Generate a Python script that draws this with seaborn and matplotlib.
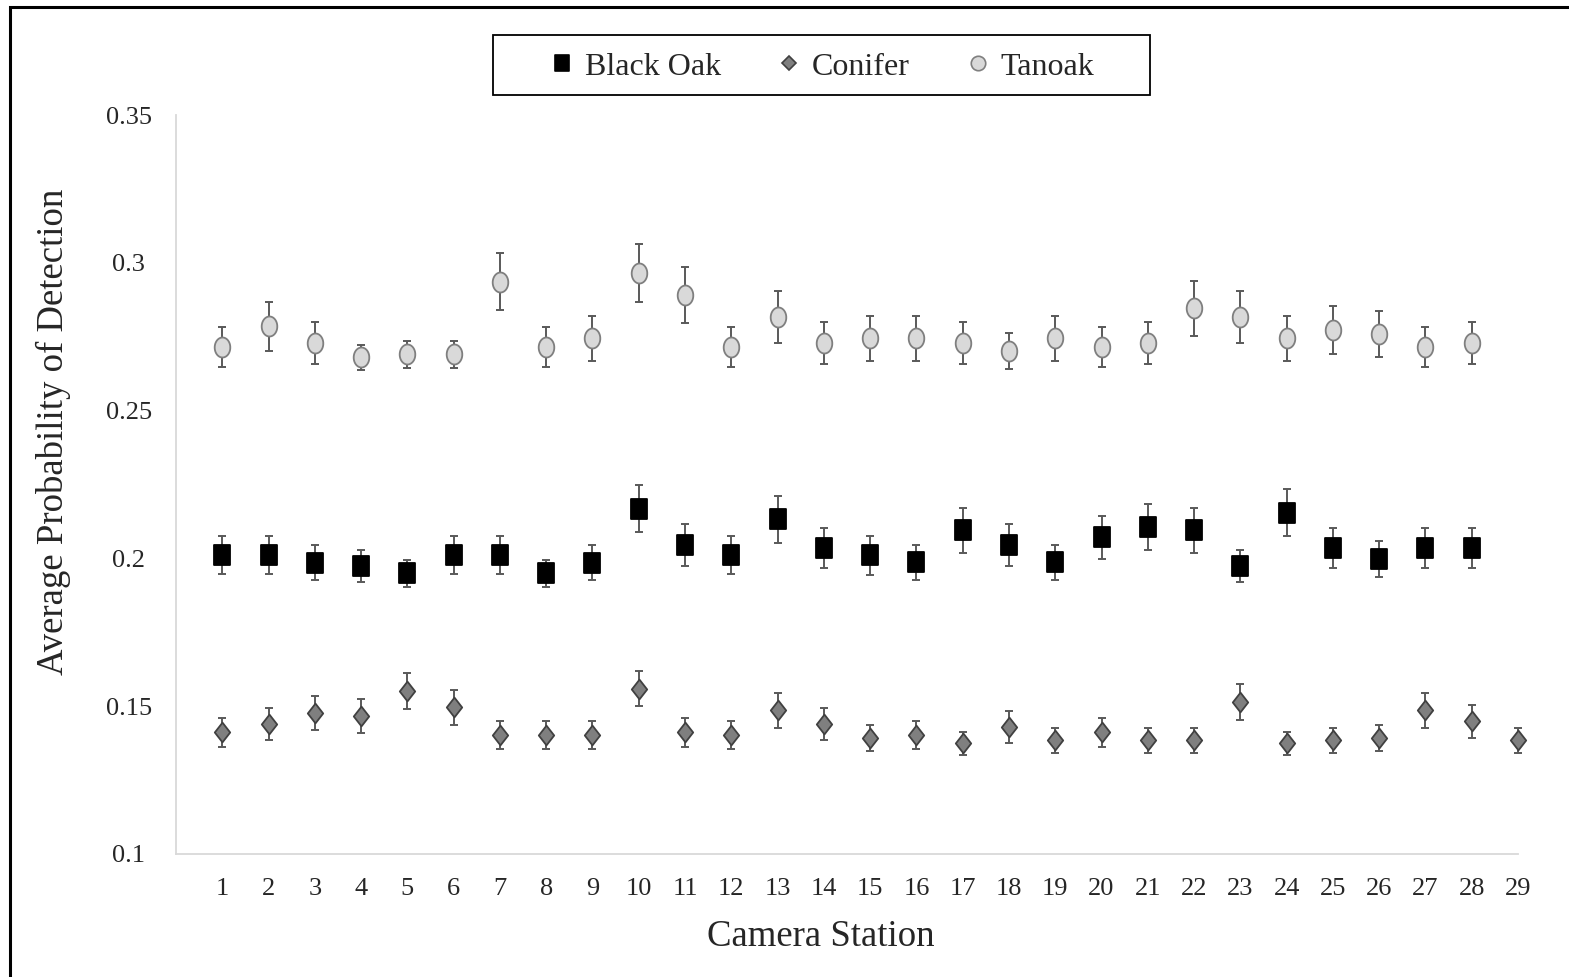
import numpy as np
import pandas as pd
import seaborn as sns
import matplotlib
matplotlib.use("Agg")
import matplotlib.pyplot as plt
from matplotlib.path import Path
from matplotlib.patches import Rectangle
from matplotlib.lines import Line2D

# Camera stations and mean detection probabilities (+/- error) per habitat
stations = list(range(1, 30))

black_oak = [0.2011, 0.2011, 0.1986, 0.1974, 0.1950, 0.2011, 0.2011, 0.1950, 0.1986, 0.2168,
             0.2046, 0.2011, 0.2132, 0.2035, 0.2010, 0.1987, 0.2095, 0.2046, 0.1987, 0.2071,
             0.2107, 0.2095, 0.1974, 0.2155, 0.2035, 0.1998, 0.2035, 0.2035, np.nan]
black_oak_err = [0.0065, 0.0065, 0.0058, 0.0055, 0.0046, 0.0065, 0.0065, 0.0046, 0.0058, 0.0080,
                 0.0071, 0.0065, 0.0079, 0.0068, 0.0065, 0.0059, 0.0076, 0.0071, 0.0059, 0.0074,
                 0.0077, 0.0076, 0.0055, 0.0080, 0.0068, 0.0061, 0.0068, 0.0068, np.nan]

conifer = [0.1412, 0.1440, 0.1477, 0.1468, 0.1550, 0.1496, 0.1403, 0.1403, 0.1403, 0.1559,
           0.1412, 0.1403, 0.1486, 0.1440, 0.1393, 0.1403, 0.1375, 0.1430, 0.1384, 0.1412,
           0.1384, 0.1384, 0.1514, 0.1375, 0.1384, 0.1393, 0.1486, 0.1449, 0.1384]
conifer_err = [0.0049, 0.0054, 0.0059, 0.0057, 0.0061, 0.0060, 0.0047, 0.0047, 0.0047, 0.0060,
               0.0049, 0.0047, 0.0060, 0.0054, 0.0045, 0.0047, 0.0039, 0.0054, 0.0042, 0.0049,
               0.0042, 0.0042, 0.0061, 0.0039, 0.0042, 0.0045, 0.0060, 0.0056, 0.0042]

tanoak = [0.2715, 0.2786, 0.2729, 0.2680, 0.2691, 0.2691, 0.2936, 0.2715, 0.2744, 0.2965,
          0.2892, 0.2715, 0.2817, 0.2729, 0.2744, 0.2744, 0.2729, 0.2702, 0.2744, 0.2715,
          0.2729, 0.2846, 0.2817, 0.2744, 0.2773, 0.2759, 0.2715, 0.2729, np.nan]
tanoak_err = [0.0067, 0.0083, 0.0072, 0.0041, 0.0046, 0.0046, 0.0096, 0.0067, 0.0075, 0.0097,
              0.0095, 0.0067, 0.0089, 0.0072, 0.0075, 0.0075, 0.0072, 0.0062, 0.0075, 0.0067,
              0.0072, 0.0093, 0.0089, 0.0075, 0.0082, 0.0079, 0.0067, 0.0072, np.nan]

y_ticks = [0.1, 0.15, 0.2, 0.25, 0.3, 0.35]
y_tick_labels = ["0.1", "0.15", "0.2", "0.25", "0.3", "0.35"]

df = pd.DataFrame({
    "station": stations * 3,
    "prob": black_oak + conifer + tanoak,
    "err": black_oak_err + conifer_err + tanoak_err,
    "habitat": ["Black Oak"] * 29 + ["Conifer"] * 29 + ["Tanoak"] * 29,
})

# Slightly narrow marker shapes
W = 0.39
rect_marker = Path([(-W, -0.5), (W, -0.5), (W, 0.5), (-W, 0.5), (-W, -0.5)],
                   [Path.MOVETO, Path.LINETO, Path.LINETO, Path.LINETO, Path.CLOSEPOLY])
diamond_marker = Path([(0, -0.5), (W, 0), (0, 0.5), (-W, 0), (0, -0.5)],
                      [Path.MOVETO, Path.LINETO, Path.LINETO, Path.LINETO, Path.CLOSEPOLY])
t = np.linspace(0, 2 * np.pi, 60)
ellipse_marker = Path(np.column_stack([W * np.cos(t), 0.5 * np.sin(t)]))

styles = {
    "Black Oak": dict(marker=rect_marker, face="#000000", edge="#000000", ms=14.8,
                      leg_marker=rect_marker, leg_ms=12.2),
    "Conifer": dict(marker=diamond_marker, face="#7f7f7f", edge="#404040", ms=14.2,
                    leg_marker="D", leg_ms=7.4),
    "Tanoak": dict(marker=ellipse_marker, face="#d9d9d9", edge="#7f7f7f", ms=14.4,
                   leg_marker="o", leg_ms=10.4),
}

sns.set_theme(style="white")
plt.rcParams["font.family"] = ["Liberation Serif", "DejaVu Serif"]

fig = plt.figure(figsize=(15.69, 9.77), dpi=100)
ax = fig.add_axes([176 / 1569, 1 - 854 / 977, (1518 - 176) / 1569, (854 - 115) / 977])

for name, st in styles.items():
    sub = df[df["habitat"] == name].dropna()
    eb = ax.errorbar(sub["station"], sub["prob"], yerr=sub["err"], fmt="none",
                     ecolor="#595959", elinewidth=1.4, capsize=3.2, capthick=1.4, zorder=2)
    for art in eb.lines[1] + eb.lines[2]:
        art.set_clip_on(False)
    sns.scatterplot(data=sub, x="station", y="prob", marker=st["marker"],
                    s=st["ms"] ** 2, color=st["face"], edgecolor=st["edge"],
                    linewidth=1.3, zorder=3, ax=ax, legend=False, clip_on=False)

ax.set_xlim(0, 29)
ax.set_ylim(0.1, 0.35)
ax.set_xticks(stations)
ax.set_xticklabels([str(s) for s in stations], fontsize=19)
ax.set_yticks(y_ticks)
ax.set_yticklabels(y_tick_labels, fontsize=19, ha="center")
ax.tick_params(axis="x", length=0, pad=17)
ax.tick_params(axis="y", length=0, pad=34)

for side in ["top", "right"]:
    ax.spines[side].set_visible(False)
for side in ["left", "bottom"]:
    ax.spines[side].set_color("#d9d9d9")
    ax.spines[side].set_linewidth(1.3)

ax.set_xlabel("Camera Station", fontsize=26.5)
ax.set_ylabel("Average Probability of Detection", fontsize=26.5)
ax.xaxis.set_label_coords((821 - 176) / 1342, -(920 - 854) / 739)
ax.yaxis.set_label_coords((53 - 176) / 1342, (854 - 432) / 739)
ax.yaxis.label.set_verticalalignment("center")

# Legend with its own framed box above the plot
handles = [
    Line2D([], [], linestyle="none", marker=st["leg_marker"], markersize=st["leg_ms"],
           markerfacecolor=st["face"], markeredgecolor=st["edge"], markeredgewidth=1.2)
    for st in styles.values()
]
fig.legend(handles, list(styles.keys()), loc="center", ncol=3,
           bbox_to_anchor=(822 / 1569, 1 - 67 / 977), frameon=False,
           fontsize=23, handlelength=0.8, handletextpad=0.3, columnspacing=1.75)
fig.add_artist(Rectangle((493 / 1569, 1 - 95 / 977), (1150 - 493) / 1569, 60 / 977,
                         transform=fig.transFigure, fill=False, edgecolor="black",
                         linewidth=1.3))

# Outer frame around the figure
fig.add_artist(Rectangle((10 / 1569, -0.02), 1.05, 1 - 6.7 / 977 + 0.02,
                         transform=fig.transFigure, fill=False, edgecolor="black",
                         linewidth=2.2, clip_on=False))

fig.savefig("out.png", dpi=100)
